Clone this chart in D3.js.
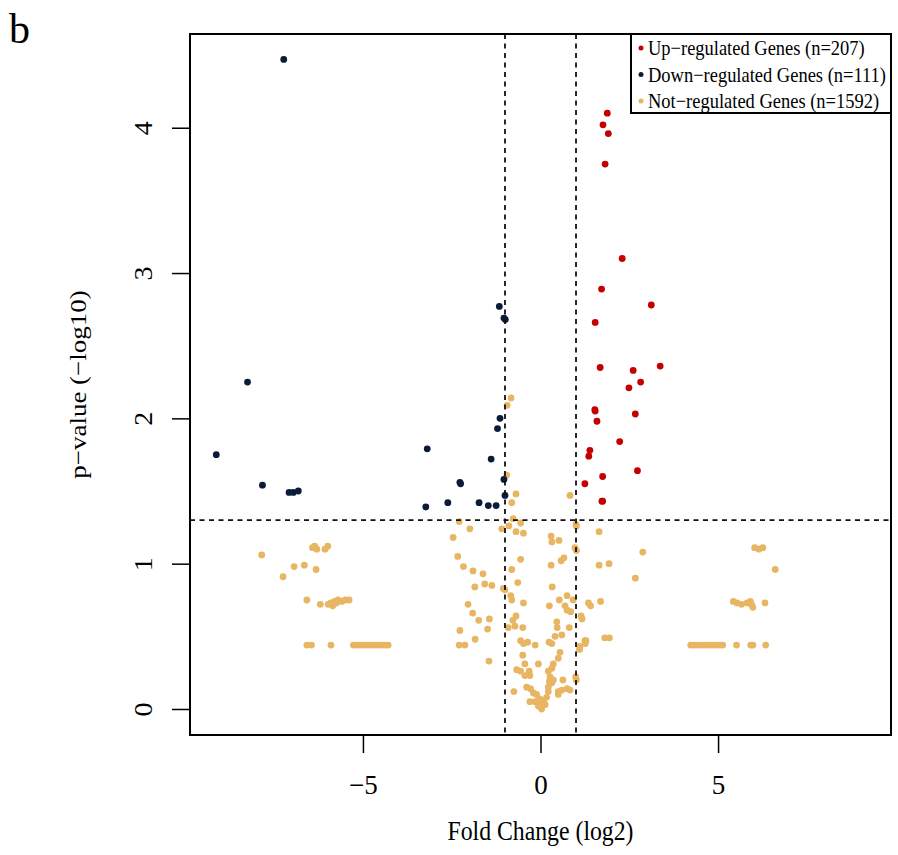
<!DOCTYPE html>
<html>
<head>
<meta charset="utf-8">
<script src="https://cdn.jsdelivr.net/npm/d3@7"></script>
<style>
  body { margin: 0; background: #fff; }
  text { font-family: "Liberation Serif", "Times New Roman", serif; fill: #000; }
</style>
</head>
<body>
<div id="chart"></div>
<script>
// volcano plot data, [log2 fold change, -log10 p]
var upGenes = [
  [1.88,4.10],[1.76,4.02],[1.91,3.96],[1.82,3.75],[2.30,3.10],[1.72,2.89],[3.12,2.78],
  [1.54,2.66],[1.68,2.35],[2.61,2.33],[3.37,2.36],[2.49,2.21],[2.82,2.25],[1.53,2.06],
  [1.54,2.05],[1.59,1.98],[2.67,2.03],[2.23,1.84],[1.39,1.78],[1.36,1.74],[2.73,1.64],
  [1.75,1.60],[1.25,1.55],[1.75,1.43],[1.73,1.43]
];
var downGenes = [
  [-7.23,4.47],[-1.16,2.77],[-1.03,2.69],[-0.99,2.68],[-8.25,2.25],[-9.13,1.75],[-7.83,1.54],
  [-7.08,1.49],[-6.96,1.49],[-6.82,1.50],[-3.19,1.79],[-3.23,1.39],[-2.61,1.42],[-2.27,1.56],
  [-2.25,1.55],[-1.73,1.42],[-1.47,1.40],[-1.25,1.40],[-1.39,1.72],[-1.21,1.93],[-1.14,2.00],
  [-1.03,1.58],[-1.00,1.47]
];
var notGenes = [
  // left clusters
  [-7.85,1.06],[-7.25,0.91],[-6.94,0.98],[-6.65,0.99],[-6.32,0.96],
  [-6.42,1.11],[-6.36,1.12],[-6.30,1.10],[-6.07,1.10],[-5.99,1.12],
  [-6.58,0.75],[-6.20,0.72],[-5.98,0.72],[-5.90,0.73],[-5.85,0.71],[-5.80,0.74],[-5.75,0.73],
  [-5.70,0.75],[-5.60,0.74],[-5.50,0.75],[-5.39,0.75],
  [-6.58,0.44],[-6.45,0.44],[-5.90,0.44],[-5.27,0.44],[-5.18,0.44],[-5.09,0.44],[-5.00,0.44],
  [-4.91,0.44],[-4.82,0.44],[-4.73,0.44],[-4.64,0.44],[-4.55,0.44],[-4.46,0.44],[-4.37,0.44],[-4.29,0.44],
  // right clusters
  [6.03,1.11],[6.15,1.10],[6.26,1.11],[6.61,0.96],
  [5.43,0.74],[5.53,0.73],[5.66,0.72],[5.82,0.73],[5.91,0.74],[5.98,0.70],[5.94,0.72],[6.32,0.73],
  [4.23,0.44],[4.33,0.44],[4.43,0.44],[4.53,0.44],[4.63,0.44],[4.73,0.44],[4.83,0.44],[4.93,0.44],
  [5.03,0.44],[5.13,0.44],[5.52,0.44],[5.92,0.44],[5.98,0.44],[6.34,0.44],
  // middle, left of -1
  [-2.29,1.29],[-1.99,1.24],[-2.46,1.18],[-2.33,1.05],[-2.17,0.98],[-1.90,0.95],[-1.62,0.93],
  [-1.85,0.84],[-1.57,0.86],[-1.37,0.85],[-2.04,0.72],[-1.91,0.66],[-1.74,0.61],[-1.44,0.62],
  [-1.49,0.55],[-2.27,0.54],[-1.84,0.48],[-2.29,0.44],[-2.13,0.44],[-1.45,0.33],
  // middle V
  [-0.83,2.14],[-0.94,2.09],[-0.95,1.61],[-0.69,1.48],[-0.81,1.42],[-0.77,1.31],
  [-1.09,1.24],[-0.89,1.26],[-0.69,1.22],[-0.56,1.28],[-0.48,1.21],[0.30,1.19],[0.32,1.15],
  [0.52,1.16],[-0.56,1.03],[-0.81,0.96],[0.30,0.99],[0.58,1.02],[0.66,1.04],[1.00,1.27],
  [0.97,1.11],[-0.64,0.87],[-1.05,0.83],[-1.00,0.82],[-0.84,0.78],[-0.81,0.75],[-0.48,0.73],
  [0.33,0.84],[0.25,0.71],[0.53,0.75],[0.75,0.78],[0.92,0.75],[0.69,0.71],[0.75,0.68],
  [0.85,0.67],[1.14,0.64],[1.35,0.73],[-0.69,0.64],[-0.78,0.61],[-0.91,0.56],[-0.72,0.57],
  [-0.50,0.56],[0.46,0.60],[0.47,0.56],[0.81,0.56],[0.41,0.50],[0.60,0.51],[-0.56,0.47],
  [-0.48,0.45],[-0.36,0.46],[-0.15,0.44],[0.24,0.46],[0.32,0.45],[1.11,0.43],[1.25,0.47],
  [-0.50,0.37],[0.55,0.39],[0.50,0.35],[0.36,0.31],[0.32,0.28],[-0.44,0.31],[-0.06,0.31],
  [-0.67,0.27],[-0.56,0.26],[-0.32,0.26],[-0.44,0.23],[-0.30,0.23],[0.22,0.26],[0.27,0.22],
  [0.25,0.19],[0.32,0.18],[0.22,0.15],[0.36,0.20],[0.63,0.20],[0.60,0.13],[0.50,0.12],
  [0.75,0.14],[0.83,0.13],[0.99,0.22],[-0.75,0.12],[-0.39,0.15],[-0.28,0.14],[-0.20,0.11],
  [-0.11,0.10],[-0.03,0.07],[-0.30,0.05],[-0.15,0.05],[-0.01,0.04],[0.08,0.06],[0.13,0.03],
  [0.03,0.00],[-0.06,0.02],[0.17,0.08],[0.22,0.12],[0.50,0.10],
  // right of 1
  [0.83,1.47],[1.01,1.26],[1.01,1.09],[1.65,1.22],[2.88,1.08],[1.65,0.99],[1.93,1.00],
  [2.67,0.90],[1.41,0.71],[1.69,0.74],[1.17,0.62],[1.28,0.47],[1.10,0.41],[1.26,0.45],
  [1.81,0.49],[1.94,0.49],[1.01,0.20]
];

var legendLabels = ["Up\u2212regulated Genes (n=207)", "Down\u2212regulated Genes (n=111)", "Not\u2212regulated Genes (n=1592)"];
var groupColors = ["#c40000", "#0b1c3a", "#e8b562"];
var xTicks = [-5, 0, 5];
var yTicks = [0, 1, 2, 3, 4];
var fcCut = [-1, 1];
var pCut = 1.3;

(function(){
  var width = 898, height = 855;
  var pLeft = 190, pRight = 891, pTop = 34, pBottom = 735; // plot box
  var squeeze = 0.88; // the original text is a bit narrow

  var svg = d3.select("#chart").append("svg")
    .attr("width", width)
    .attr("height", height);

  var x = d3.scaleLinear().domain([-9.87, 9.87]).range([pLeft, pRight]);
  var y = d3.scaleLinear().domain([-0.179, 4.645]).range([pBottom, pTop]);

  // axes
  var xAxis = svg.append("g")
    .attr("transform", "translate(0," + pBottom + ")")
    .call(d3.axisBottom(x).tickValues(xTicks).tickSize(18).tickFormat(function(d) {
      return d < 0 ? "\u2212" + Math.abs(d) : d;
    }));
  xAxis.select(".domain").remove();
  xAxis.selectAll("line").attr("stroke", "#000").attr("stroke-width", 1.5);
  xAxis.selectAll("text")
    .attr("y", 59).attr("dy", 0)
    .attr("font-size", "27px")
    .attr("font-family", "Liberation Serif");

  var yAxis = svg.append("g")
    .attr("transform", "translate(" + pLeft + ",0)")
    .call(d3.axisLeft(y).tickValues(yTicks).tickSize(18).tickFormat(d3.format("d")));
  yAxis.select(".domain").remove();
  yAxis.selectAll("line").attr("stroke", "#000").attr("stroke-width", 1.5);
  yAxis.selectAll("text")
    .attr("x", 0).attr("dy", 0)
    .attr("text-anchor", "middle")
    .attr("transform", "translate(-38,0) rotate(-90) scale(1," + squeeze + ")")
    .attr("font-size", "28px")
    .attr("font-family", "Liberation Serif");

  // points
  function drawGroup(data, color) {
    svg.append("g").selectAll("circle")
      .data(data)
      .enter().append("circle")
      .attr("cx", function(d) { return x(d[0]); })
      .attr("cy", function(d) { return y(d[1]); })
      .attr("r", 3.4)
      .attr("fill", color);
  }
  drawGroup(notGenes, groupColors[2]);
  drawGroup(downGenes, groupColors[1]);
  drawGroup(upGenes, groupColors[0]);

  // threshold lines
  svg.append("g").selectAll("line")
    .data(fcCut)
    .enter().append("line")
    .attr("x1", function(d) { return x(d); })
    .attr("x2", function(d) { return x(d); })
    .attr("y1", pTop).attr("y2", pBottom)
    .attr("stroke", "#111").attr("stroke-width", 1.8)
    .attr("stroke-dasharray", "5,4.5");
  svg.append("line")
    .attr("x1", pLeft).attr("x2", pRight)
    .attr("y1", y(pCut)).attr("y2", y(pCut))
    .attr("stroke", "#111").attr("stroke-width", 1.8)
    .attr("stroke-dasharray", "5,4.5");

  // box
  svg.append("rect")
    .attr("x", pLeft).attr("y", pTop)
    .attr("width", pRight - pLeft).attr("height", pBottom - pTop)
    .attr("fill", "none").attr("stroke", "#000").attr("stroke-width", 2);

  // legend
  var legend = svg.append("g");
  legend.append("rect")
    .attr("x", 631).attr("y", pTop)
    .attr("width", pRight - 631).attr("height", 79)
    .attr("fill", "#fff").attr("stroke", "#000").attr("stroke-width", 2);
  var rows = legend.selectAll(".row")
    .data(legendLabels)
    .enter().append("g")
    .attr("transform", function(d, i) { return "translate(0," + (48 + i * 26.5) + ")"; });
  rows.append("circle")
    .attr("cx", 641).attr("cy", 0).attr("r", 2.5)
    .attr("fill", function(d, i) { return groupColors[i]; });
  rows.append("text")
    .attr("transform", "translate(648,7) scale(" + squeeze + ",1)")
    .attr("font-size", "21px")
    .text(function(d) { return d; });

  // titles
  svg.append("text")
    .attr("transform", "translate(" + (pLeft + pRight) / 2 + ",840) scale(" + squeeze + ",1)")
    .attr("text-anchor", "middle")
    .attr("font-size", "27px")
    .text("Fold Change (log2)");
  svg.append("text")
    .attr("transform", "translate(86," + (pTop + pBottom) / 2 + ") rotate(-90) scale(1," + squeeze + ")")
    .attr("text-anchor", "middle")
    .attr("font-size", "27px")
    .text("p\u2212value (\u2212log10)");
  svg.append("text")
    .attr("x", 9).attr("y", 43)
    .attr("font-size", "42px")
    .text("b");
})();
</script>
</body>
</html>
